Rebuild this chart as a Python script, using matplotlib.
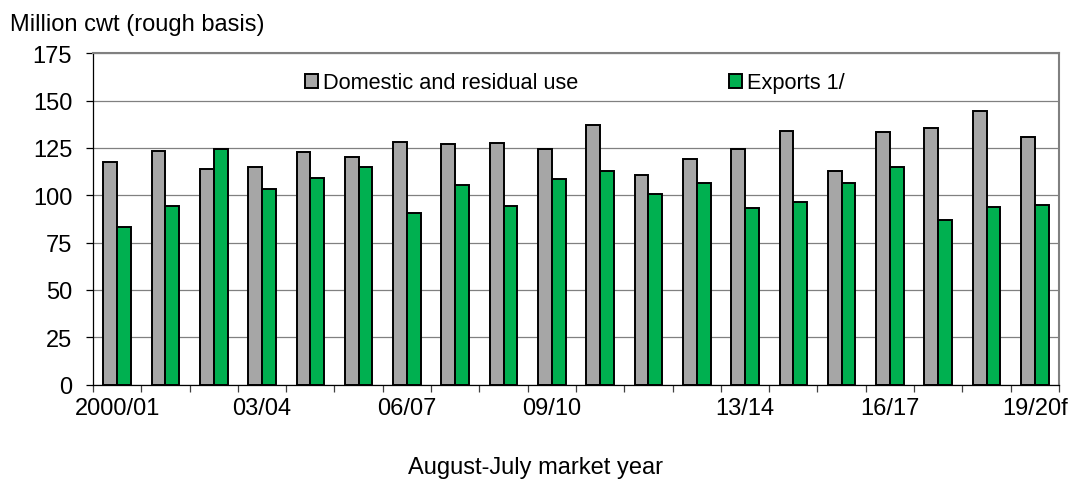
import numpy as np
import matplotlib
matplotlib.use('Agg')
import matplotlib.pyplot as plt
from matplotlib.patches import Patch

plt.rcParams['font.family'] = ['Liberation Sans', 'DejaVu Sans']

# market years (Aug-Jul)
years = ['2000/01', '01/02', '02/03', '03/04', '04/05', '05/06', '06/07',
         '07/08', '08/09', '09/10', '10/11', '11/12', '12/13', '13/14',
         '14/15', '15/16', '16/17', '17/18', '18/19', '19/20f']
# only some of the labels are printed under the axis
shown_labels = ['2000/01', '', '', '03/04', '', '', '06/07', '', '', '09/10',
                '', '', '', '13/14', '', '', '16/17', '', '', '19/20f']

domestic = [117.5, 123.5, 113.8, 115.2, 122.9, 120.0, 128.2, 127.0, 127.7,
            124.4, 137.0, 110.8, 119.2, 124.2, 134.0, 112.9, 133.5, 135.5,
            144.5, 131.0]
exports = [83.3, 94.6, 124.5, 103.2, 109.0, 115.0, 90.7, 105.3, 94.4, 108.7,
           112.7, 100.9, 106.6, 93.5, 96.3, 106.6, 114.8, 86.8, 93.7, 95.1]

gray = '#A6A6A6'
green = '#00B050'
fs = 17
fs_leg = 15.7

fig = plt.figure(figsize=(10.7, 4.81), dpi=100)
ax = fig.add_axes([0.0869, 0.1985, 0.9028, 0.6885])

x = np.arange(len(years))
w = 0.286
ax.bar(x - w / 2, domestic, w, color=gray, edgecolor='black',
       linewidth=1.4, zorder=3)
ax.bar(x + w / 2, exports, w, color=green, edgecolor='black',
       linewidth=1.4, zorder=3)

ax.set_xlim(-0.5, len(years) - 0.5)
ax.set_ylim(0, 175)
ax.set_yticks(np.arange(0, 176, 25))
ax.yaxis.grid(True, color='#808080', linewidth=0.9, zorder=0)
ax.set_axisbelow(True)

ax.set_xticks(x)
ax.set_xticklabels(shown_labels, fontsize=fs)
ax.set_xticks(np.arange(-0.5, len(years), 1.0), minor=True)
ax.tick_params(axis='x', which='major', length=0, pad=9)
ax.tick_params(axis='x', which='minor', length=5, width=0.9,
               direction='out', color='#404040')
ax.tick_params(axis='y', length=5, width=0.9, labelsize=fs, pad=10)

for side in ['top', 'right']:
    ax.spines[side].set_color('#808080')
    ax.spines[side].set_linewidth(1.5)
for side in ['left', 'bottom']:
    ax.spines[side].set_color('black')
    ax.spines[side].set_linewidth(0.9)

handles = [Patch(facecolor=gray, edgecolor='black', linewidth=1.4),
           Patch(facecolor=green, edgecolor='black', linewidth=1.4)]
ax.legend(handles, ['Domestic and residual use', 'Exports 1/'],
          loc='center left', bbox_to_anchor=(0.2195, 0.911), ncol=2,
          frameon=False, fontsize=fs_leg, borderpad=0, borderaxespad=0,
          handlelength=0.6, handleheight=0.6, handletextpad=0.23,
          columnspacing=6.9)

fig.text(0.009, 0.948, 'Million cwt (rough basis)', fontsize=fs,
         ha='left', va='center')
fig.text(0.5, 0.028, 'August-July market year', fontsize=fs,
         ha='center', va='center')

fig.savefig('out.png', dpi=100)
plt.close('all')
